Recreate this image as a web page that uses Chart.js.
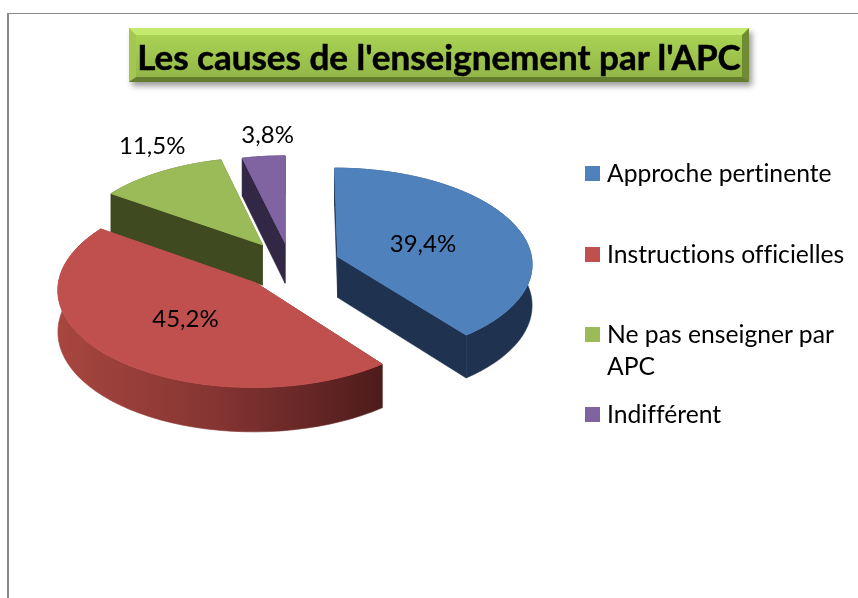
<!DOCTYPE html>
<html lang="fr">
<head>
<meta charset="utf-8">
<title>Les causes de l'enseignement par l'APC</title>
<script src="https://cdn.jsdelivr.net/npm/chart.js@4/dist/chart.umd.min.js"></script>
<style>
  html, body { margin: 0; padding: 0; background: #fff; overflow: hidden; }
  #wrap { position: relative; width: 858px; height: 598px; font-family: Lato, sans-serif; color: #000; font-variant-ligatures: none; }
  #frame { position: absolute; left: 7px; top: 13px; width: 860px; height: 600px; border: 1px solid #8a8a8a; border-width: 1px 0 0 2px; }
  #title {
    position: absolute; left: 129px; top: 28px; width: 620px; height: 54px; box-sizing: border-box;
    border-style: solid; border-width: 7px 7px 5px 7px;
    border-color: #c3ea6c #6f8c33 #647c2e #a3c750;
    background: linear-gradient(#a9d253, #93b748);
    box-shadow: 3px 4px 6px rgba(0,0,0,.4);
    font-weight: 700; font-size: 35px; line-height: 42px; text-align: center; white-space: nowrap;
    -webkit-text-stroke: 0.5px #000;
  }
  .item { position: absolute; left: 607px; width: 245px; font-size: 24.7px; line-height: 32px; }
  .item i { position: absolute; left: -22px; top: 9px; width: 15px; height: 15px; }
  canvas { position: absolute; left: 0; top: 0; }
</style>
</head>
<body>
<div id="wrap">
  <div id="frame"></div>
  <canvas id="jschart" width="858" height="598"></canvas>
  <div id="title"></div>
  <div id="legend"></div>
</div>
<script>
const chartTitle = "Les causes de l'enseignement par l'APC";
const categories = ['Approche pertinente', 'Instructions officielles', 'Ne pas enseigner par APC', 'Indifférent'];
const values = [39.4, 45.2, 11.5, 3.8];

const faceColors = ['#4f81bd', '#c0504d', '#9bbb59', '#8064a2'];
const wallColors = ['#1f3350', null, '#3f4a20', '#322845'];
const legendTops = [157, 238, 318, 398];

// 3d look, the pie itself still comes from the arc elements
const explodeX = [52, -30, -24, -1];
const explodeY = [19, -34, 44, 48];
const labelPos = [0.49, 0.5, 1.2, 1.3];
const labelNudgeX = [-3, 0, 11, 10];
const labelNudgeY = [2, 0, -12, 3];
const squash = 0.49;
const persp = 3000;
const depth = 41;

function project(c, wx, wy, drop) {
  const s = 1 / (1 + wy / persp);
  return [c.x + wx * s, c.y - wy * squash * s + drop * s];
}

function slicePoints(el, i, drop) {
  const steps = 48;
  const rim = [];
  for (let n = 0; n <= steps; n++) {
    const a = el.startAngle + (el.endAngle - el.startAngle) * n / steps;
    rim.push(project(el, explodeX[i] + Math.cos(a) * el.outerRadius, explodeY[i] - Math.sin(a) * el.outerRadius, drop));
  }
  return { apex: project(el, explodeX[i], explodeY[i], drop), rim };
}

function trace(ctx, pts) {
  ctx.beginPath();
  pts.forEach((p, n) => n ? ctx.lineTo(p[0], p[1]) : ctx.moveTo(p[0], p[1]));
  ctx.closePath();
}

const pie3d = {
  id: 'pie3d',
  beforeDatasetDraw(chart) {
    const ctx = chart.ctx;
    const arcs = chart.getDatasetMeta(0).data;
    // back to front
    [3, 2, 0, 1].forEach((i) => {
      const top = slicePoints(arcs[i], i, 0);
      const low = slicePoints(arcs[i], i, depth);
      let wall = wallColors[i];
      if (!wall) {
        const xs = top.rim.map((p) => p[0]);
        wall = ctx.createLinearGradient(Math.min(...xs), 0, Math.max(...xs), 0);
        wall.addColorStop(0, '#a8463f');
        wall.addColorStop(0.5, '#843432');
        wall.addColorStop(1, '#4d1c1b');
      }
      ctx.fillStyle = wall;
      ctx.strokeStyle = wall;
      ctx.lineWidth = 0.6;
      [
        [top.apex, top.rim[0], low.rim[0], low.apex],
        [top.apex, top.rim[top.rim.length - 1], low.rim[low.rim.length - 1], low.apex],
        top.rim.concat(low.rim.slice().reverse()),
      ].forEach((side) => {
        trace(ctx, side);
        ctx.fill();
        ctx.stroke();
      });
      ctx.fillStyle = faceColors[i];
      ctx.strokeStyle = faceColors[i];
      ctx.lineWidth = 1;
      trace(ctx, [top.apex].concat(top.rim));
      ctx.fill();
      ctx.stroke();
    });
    return false;
  },
  afterDatasetsDraw(chart) {
    const ctx = chart.ctx;
    ctx.save();
    ctx.font = '24px Lato, sans-serif';
    ctx.fillStyle = '#000';
    ctx.textAlign = 'center';
    ctx.textBaseline = 'middle';
    chart.getDatasetMeta(0).data.forEach((el, i) => {
      const mid = (el.startAngle + el.endAngle) / 2;
      const r = el.outerRadius * labelPos[i];
      const p = project(el, explodeX[i] + Math.cos(mid) * r, explodeY[i] - Math.sin(mid) * r, 0);
      ctx.fillText(values[i].toFixed(1).replace('.', ',') + '%', p[0] + labelNudgeX[i], p[1] + labelNudgeY[i]);
    });
    ctx.restore();
  },
};

new Chart(document.getElementById('jschart'), {
  type: 'pie',
  data: {
    labels: categories,
    datasets: [{ data: values, backgroundColor: faceColors, borderWidth: 0 }],
  },
  options: {
    responsive: false,
    animation: false,
    layout: { padding: { left: 91, right: 377, top: 71, bottom: 137 } },
    plugins: { legend: { display: false }, tooltip: { enabled: false } },
  },
  plugins: [pie3d],
});

document.getElementById('title').textContent = chartTitle;
categories.forEach((name, i) => {
  const row = document.createElement('div');
  row.className = 'item';
  row.style.top = legendTops[i] + 'px';
  const mark = document.createElement('i');
  mark.style.background = faceColors[i];
  row.appendChild(mark);
  row.appendChild(document.createTextNode(name));
  document.getElementById('legend').appendChild(row);
});
</script>
</body>
</html>
